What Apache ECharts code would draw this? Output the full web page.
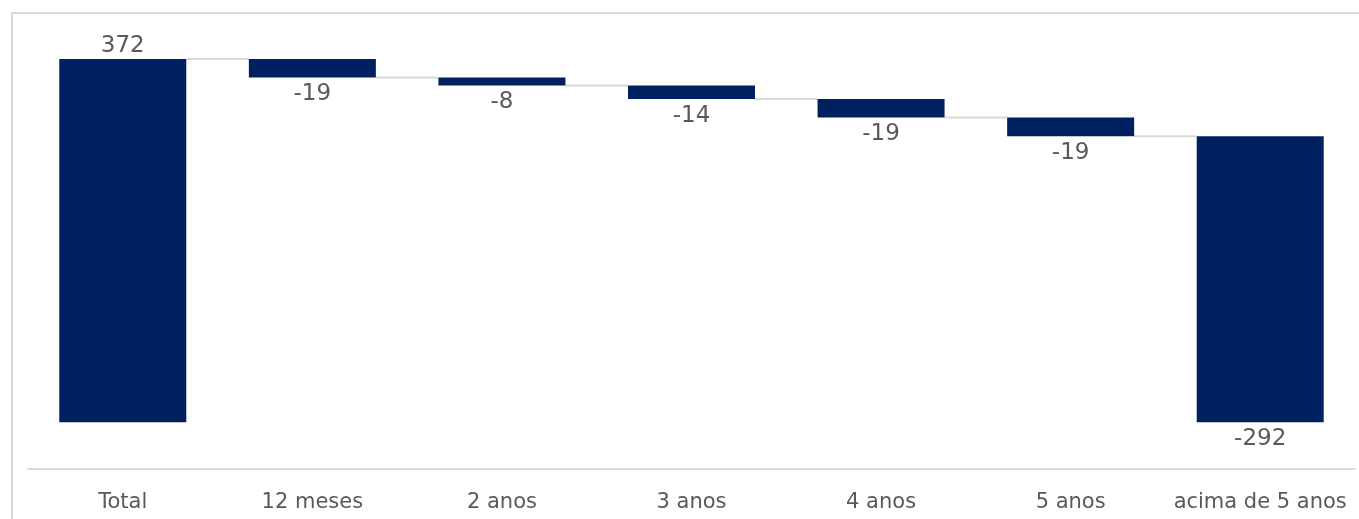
<!DOCTYPE html>
<html>
<head>
<meta charset="utf-8">
<script src="https://cdn.jsdelivr.net/npm/echarts@6/dist/echarts.min.js"></script>
<style>
  html, body { margin: 0; padding: 0; background: #fff; }
  #main { width: 1359px; height: 519px; }
</style>
</head>
<body>
<div id="main"></div>
<script>
// categorias e valores (R$ bi)
var categorias = ['Total', '12 meses', '2 anos', '3 anos', '4 anos', '5 anos', 'acima de 5 anos'];
var valorTotal = 372;
var variacoes = [-19, -8, -14, -19, -19];
var valorFinal = -292;

// monta base invisivel + barra visivel
var base = [], altura = [], rotulos = [], niveis = [];
var acum = valorTotal;
base.push(0); altura.push(valorTotal); rotulos.push(valorTotal); niveis.push(acum);
for (var i = 0; i < variacoes.length; i++) {
  acum += variacoes[i];
  base.push(acum);
  altura.push(-variacoes[i]);
  rotulos.push(variacoes[i]);
  niveis.push(acum);
}
base.push(0); altura.push(acum); rotulos.push(valorFinal);

var LARG_BARRA = 127;
var fonte = 'DejaVu Sans, Verdana, sans-serif';

var chart = echarts.init(document.getElementById('main'));
chart.setOption({
  animation: false,
  backgroundColor: '#fff',
  graphic: [{
    type: 'rect',
    shape: { x: 12, y: 13, width: 1400, height: 600 },
    style: { fill: 'none', stroke: '#d9d9d9', lineWidth: 2 },
    silent: true
  }],
  grid: { left: 28, right: 4, top: 20, bottom: 50 },
  xAxis: {
    type: 'category',
    data: categorias,
    axisLine: { onZero: false, lineStyle: { color: '#d9d9d9', width: 2 } },
    axisTick: { show: false },
    axisLabel: { color: '#595959', fontSize: 21, fontFamily: fonte, margin: 23, interval: 0 }
  },
  yAxis: {
    type: 'value',
    min: -48,
    max: 412,
    show: false,
    splitLine: { show: false }
  },
  series: [
    {
      type: 'bar',
      stack: 'w',
      data: base,
      barWidth: LARG_BARRA,
      itemStyle: { color: 'transparent' },
      silent: true
    },
    {
      type: 'bar',
      stack: 'w',
      data: altura.map(function (v, k) {
        return {
          value: v,
          label: {
            show: true,
            position: k === 0 ? 'top' : 'bottom',
            distance: k === 0 ? 2 : 5,
            formatter: String(rotulos[k]),
            color: '#595959',
            fontSize: 23,
            fontFamily: fonte
          }
        };
      }),
      barWidth: LARG_BARRA,
      itemStyle: { color: '#002060' }
    },
    {
      type: 'custom',
      silent: true,
      data: niveis.map(function (n, k) { return [k, n]; }),
      renderItem: function (params, api) {
        var k = api.value(0);
        var p1 = api.coord([k, api.value(1)]);
        var p2 = api.coord([k + 1, api.value(1)]);
        return {
          type: 'line',
          shape: { x1: p1[0] + LARG_BARRA / 2, y1: p1[1], x2: p2[0] - LARG_BARRA / 2, y2: p2[1] },
          style: { stroke: '#d9d9d9', lineWidth: 2 }
        };
      }
    }
  ]
});
</script>
</body>
</html>
